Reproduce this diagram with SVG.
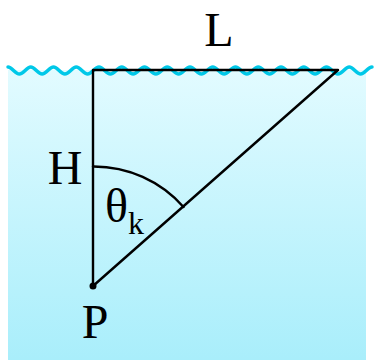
<svg xmlns="http://www.w3.org/2000/svg" width="374" height="360" viewBox="0 0 374 360">
<defs>
<linearGradient id="water" x1="0" y1="0" x2="0" y2="1">
<stop offset="0" stop-color="#e2fbff"/>
<stop offset="1" stop-color="#a9eefb"/>
</linearGradient>
<style>
.lbl{font-family:"Liberation Serif","Times New Roman",serif;font-size:48px;fill:#000}
.ln{stroke:#000;stroke-width:2.4;fill:none;stroke-linecap:round;stroke-linejoin:round}
.wave{stroke:#00c8e8;stroke-width:3.5;fill:none;stroke-linecap:round}
</style>
</defs>
<rect x="0" y="0" width="374" height="360" fill="#fff"/>
<g id="water-body">
<rect x="8" y="70" width="358" height="290" fill="url(#water)"/>
<path class="wave" d="M8,67 C12.1,67 15.1,74 19.4,74 S26.6,67 30.75,67 S37.9,74 42.1,74 S49.3,67 53.5,67 S60.6,74 64.9,74 S72.1,67 76.25,67 S83.4,74 87.6,74 S94.8,67 99,67 S106.1,74 110.4,74 S117.6,67 121.75,67 S128.9,74 133.1,74 S140.3,67 144.5,67 S151.6,74 155.9,74 S163.1,67 167.25,67 S174.4,74 178.6,74 S185.8,67 190,67 S197.1,74 201.4,74 S208.6,67 212.75,67 S219.9,74 224.1,74 S231.3,67 235.5,67 S242.6,74 246.9,74 S254.1,67 258.25,67 S265.4,74 269.6,74 S276.8,67 281,67 S288.1,74 292.4,74 S299.6,67 303.75,67 S310.9,74 315.1,74 S322.3,67 326.5,67 S333.6,74 337.9,74 S345.1,67 349.25,67 S356.4,74 360.6,74 S367.8,67 372,67"/>
</g>
<g id="connectors">
<path class="ln" d="M93,70 L338,70 L93,286 Z"/>
<path class="ln" d="M93,166.5 A119.5,119.5 0 0 1 183.5,207"/>
</g>
<g id="node-P">
<circle cx="93" cy="286" r="3.5" fill="#000"/>
<text class="lbl" x="95" y="338" text-anchor="middle">P</text>
</g>
<g id="label-L"><text class="lbl" x="219" y="46" text-anchor="middle">L</text></g>
<g id="label-H"><text class="lbl" x="65" y="184" text-anchor="middle">H</text></g>
<g id="label-theta"><text class="lbl" x="105" y="222">θ<tspan font-size="32" dy="12">k</tspan></text></g>
</svg>
